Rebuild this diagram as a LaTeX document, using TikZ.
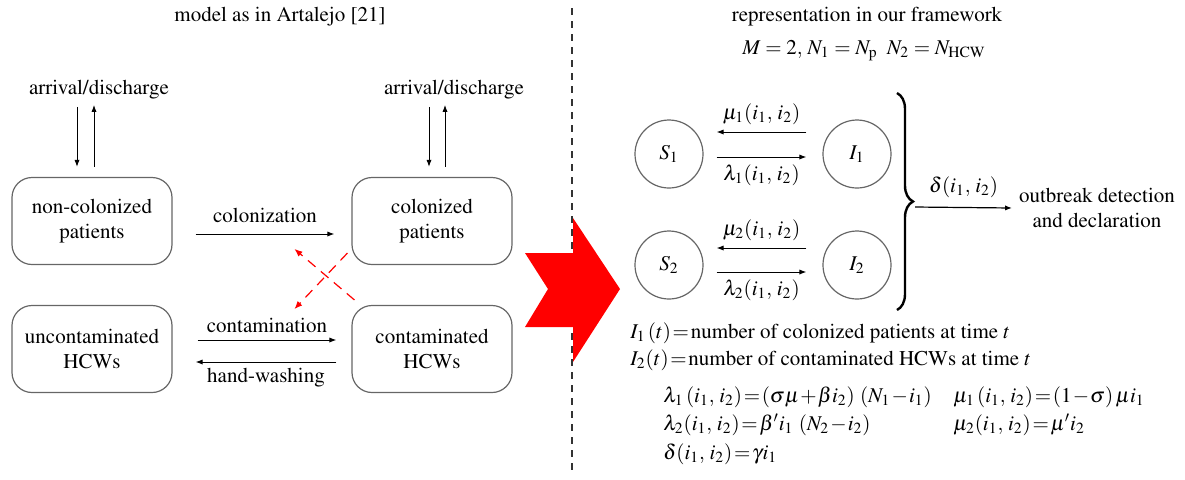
\documentclass[tikz,border=0pt]{standalone}
\usepackage[T1]{fontenc}
\usepackage{mathptmx}
\usetikzlibrary{positioning,arrows.meta,calc,decorations.pathreplacing}

\begin{document}
\begin{tikzpicture}[x=0.5pt, y=-0.5pt,
  every node/.style={font=\rmfamily\fontsize{10.5}{12.5}\selectfont},
  state/.style={draw=black!60, rounded corners=10pt, minimum width=80pt,
                minimum height=43.5pt, align=center, line width=0.6pt},
  cell/.style={draw=black!60, circle, minimum size=34pt, inner sep=0pt,
               line width=0.6pt},
  flow/.style={-{Latex[length=3.5pt,width=2.6pt]}, line width=0.5pt},
  cross/.style={-{Latex[length=4pt,width=3.2pt]}, red, line width=0.6pt,
                dash pattern=on 5pt off 3.5pt},
  lbl/.style={inner sep=1.5pt},
  defn/.style={anchor=west, inner sep=0pt,
               execute at begin node={\thickmuskip=1.5mu\medmuskip=1mu}},
]
\useasboundingbox (0,0) rectangle (1185,479);

% ---- titles and separator ----
\node (ltitle) at (280,17) {model as in Artalejo [21]};
\node (rtitle) at (867,17) {representation in our framework};
\node (param)  at (864,51) {$M=2,\, N_1=N_{\mathrm{p}}\;\; N_2=N_{\mathrm{HCW}}$};
\draw[black!80, line width=0.7pt, dash pattern=on 3.5pt off 3pt] (572,8) -- (572,474);

% ---- left model: four compartments ----
\node[state] (ncp) at (92,221)  {non-colonized\\patients};
\node[state] (cp)  at (432,221) {colonized\\patients};
\node[state] (uh)  at (92,349)  {uncontaminated\\HCWs};
\node[state] (ch)  at (432,349) {contaminated\\HCWs};

\node (arr1) at (99,90)  {arrival/discharge};
\node (arr2) at (454,90) {arrival/discharge};
\draw[flow] ($(ncp.north)+(-15,-70)$) -- ($(ncp.north)+(-15,-10)$);
\draw[flow] ($(ncp.north)+(2,-10)$) -- ($(ncp.north)+(2,-72)$);
\draw[flow] ($(cp.north)+(-3,-70)$) -- ($(cp.north)+(-3,-10)$);
\draw[flow] ($(cp.north)+(13,-10)$) -- ($(cp.north)+(13,-72)$);

\draw[flow] ($(ncp.east)+(23,13)$) -- ($(cp.west)+(-17,13)$)
  node[lbl, midway, above, yshift=4pt] {colonization};
\draw[flow] ($(uh.east)+(25,-9)$) -- ($(ch.west)+(-15,-9)$)
  node[lbl, midway, above, yshift=2pt] {contamination};
\draw[flow] ($(ch.west)+(-15,13)$) -- ($(uh.east)+(23,13)$)
  node[lbl, midway, below, yshift=-1.5pt] {hand-washing};

% ---- red crossing influences ----
\draw[cross] ($(cp.south west)+(-4,-12)$) -- ($(cp.south west)+(-57,44)$);
\draw[cross] ($(ch.north west)+(3,-5)$) -- ($(ch.north west)+(-57,-56)$);

% ---- big red arrow ----
\fill[red] (525,253) -- (573,253) -- (573,218) -- (620,289) -- (573,362)
  -- (573,327) -- (525,327) -- (548,289) -- cycle;

% ---- right model: S/I pairs ----
\node[cell] (s1) at (669,154) {$S_1$};
\node[cell] (i1) at (857,154) {$I_1$};
\node[cell] (s2) at (669,265) {$S_2$};
\node[cell] (i2) at (857,265) {$I_2$};

\draw[flow] ($(i1.west)+(-16,-22)$) -- ($(s1.east)+(13,-22)$)
  node[lbl, midway, above, yshift=2pt] {$\mu_1(i_1,\, i_2)$};
\draw[flow] ($(s1.east)+(13,3)$) -- ($(i1.west)+(-16,3)$)
  node[lbl, midway, below, yshift=-2pt] {$\lambda_1(i_1,\, i_2)$};
\draw[flow] ($(i2.west)+(-16,-17)$) -- ($(s2.east)+(13,-17)$)
  node[lbl, midway, above, yshift=2pt] {$\mu_2(i_1,\, i_2)$};
\draw[flow] ($(s2.east)+(13,7)$) -- ($(i2.west)+(-16,7)$)
  node[lbl, midway, below, yshift=-2pt] {$\lambda_2(i_1,\, i_2)$};

\draw[line width=1.2pt, decorate, decoration={brace, amplitude=8pt}]
  (897,93) -- (897,310);
\coordinate (btip) at (915,207);
\node[align=center] (outb) at (1097,208) {outbreak detection\\and declaration};
\draw[flow, line width=0.6pt] (btip) -- (outb.west)
  node[lbl, midway, above, yshift=3pt] {$\delta(i_1,\, i_2)$};

% ---- definitions ----
\node[defn] (d1) at (630,333) {$I_1\,(t) = {}$number of colonized patients at time $t$};
\node[defn] (d2) at (630,360) {$I_2(t) = {}$number of contaminated HCWs at time $t$};
\node[defn] (f1) at (663,397) {$\lambda_1\,(i_1,\, i_2) = (\sigma\mu + \beta i_2)\ (N_1 - i_1)$};
\node[defn] (f2) at (663,425) {$\lambda_2(i_1,\, i_2) = \beta' i_1\ (N_2 - i_2)$};
\node[defn] (f3) at (663,454) {$\delta(i_1,\, i_2) = \gamma i_1$};
\node[defn] (g1) at (953,397) {$\mu_1\,(i_1,\, i_2) = (1 - \sigma)\,\mu i_1$};
\node[defn] (g2) at (953,425) {$\mu_2(i_1,\, i_2) = \mu' i_2$};

\end{tikzpicture}
\end{document}
